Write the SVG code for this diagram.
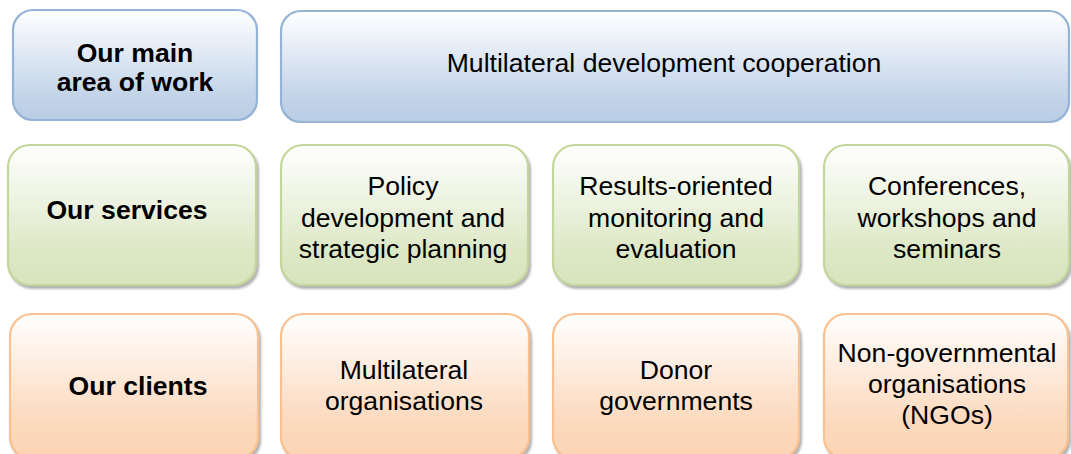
<svg xmlns="http://www.w3.org/2000/svg" width="1071" height="454" viewBox="0 0 1071 454">
<style>
text{font-family:"Liberation Sans",Arial,sans-serif;font-size:26.6px;fill:#000;text-anchor:middle}
.b{font-weight:bold}
.blue{fill:url(#gBlue);stroke:#95b3d7;stroke-width:2.2}
.green{fill:url(#gGreen);stroke:#c3d69b;stroke-width:2.2}
.orange{fill:url(#gOrange);stroke:#fac08f;stroke-width:2.2}
</style>
<defs>
<linearGradient id="gBlue" x1="0" y1="0" x2="0" y2="1"><stop offset="0" stop-color="#ffffff"/><stop offset="0.75" stop-color="#c4d5ea"/><stop offset="1" stop-color="#b9cde5"/></linearGradient>
<linearGradient id="gGreen" x1="0" y1="0" x2="0" y2="1"><stop offset="0" stop-color="#ffffff"/><stop offset="0.75" stop-color="#dde8c6"/><stop offset="1" stop-color="#d7e4bd"/></linearGradient>
<linearGradient id="gOrange" x1="0" y1="0" x2="0" y2="1"><stop offset="0" stop-color="#ffffff"/><stop offset="0.75" stop-color="#fcd9bd"/><stop offset="1" stop-color="#fbd4b4"/></linearGradient>
<filter id="sh" x="-5%" y="-5%" width="115%" height="120%"><feDropShadow dx="2" dy="3" stdDeviation="1.2" flood-color="#808080" flood-opacity="0.6"/></filter>
</defs>
<g id="area-label"><rect class="blue" x="13" y="10" width="244" height="110" rx="20"/><text class="b" x="135" y="62">Our main</text><text class="b" x="135" y="91">area of work</text></g>
<g id="area-main"><rect class="blue" x="281" y="11" width="788" height="111" rx="20"/><text x="664" y="72">Multilateral development cooperation</text></g>
<g id="services-label"><rect class="green" filter="url(#sh)" x="8" y="145" width="248" height="140" rx="22"/><text class="b" x="127" y="219">Our services</text></g>
<g id="service-policy"><rect class="green" filter="url(#sh)" x="281" y="145" width="247" height="140" rx="22"/><text x="403" y="195">Policy</text><text x="403" y="226.5">development and</text><text x="403" y="258">strategic planning</text></g>
<g id="service-monitoring"><rect class="green" filter="url(#sh)" x="553" y="145" width="246" height="140" rx="22"/><text x="676" y="195">Results-oriented</text><text x="676" y="226.5">monitoring and</text><text x="676" y="258">evaluation</text></g>
<g id="service-conferences"><rect class="green" filter="url(#sh)" x="824" y="145" width="245" height="140" rx="22"/><text x="947" y="195">Conferences,</text><text x="947" y="226.5">workshops and</text><text x="947" y="258">seminars</text></g>
<g id="clients-label"><rect class="orange" filter="url(#sh)" x="10" y="314" width="248" height="145" rx="22"/><text class="b" x="138" y="395">Our clients</text></g>
<g id="client-multilateral"><rect class="orange" filter="url(#sh)" x="281" y="314" width="248" height="145" rx="22"/><text x="404" y="379">Multilateral</text><text x="404" y="410">organisations</text></g>
<g id="client-donor"><rect class="orange" filter="url(#sh)" x="553" y="314" width="246" height="145" rx="22"/><text x="676" y="379">Donor</text><text x="676" y="410">governments</text></g>
<g id="client-ngo"><rect class="orange" filter="url(#sh)" x="824" y="314" width="244" height="145" rx="22"/><text x="947" y="362">Non-governmental</text><text x="947" y="393">organisations</text><text x="947" y="424">(NGOs)</text></g>
<g id="connectors"/>
</svg>
